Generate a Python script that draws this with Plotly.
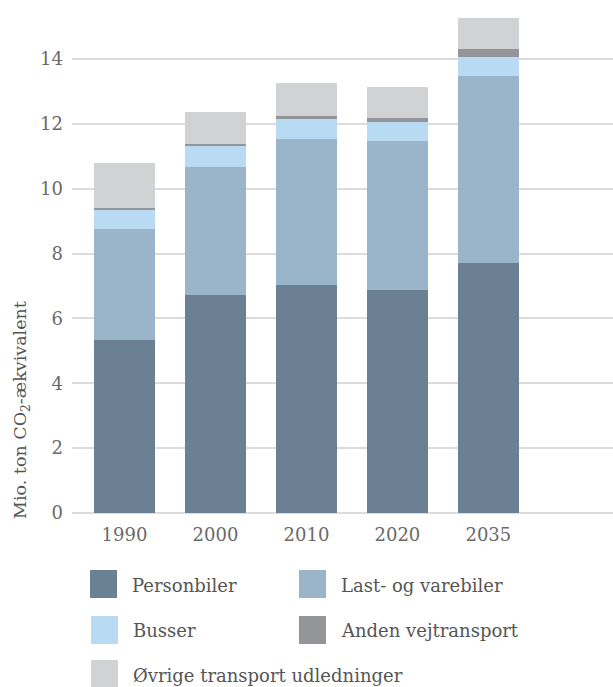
import plotly.graph_objects as go

years = ["1990", "2000", "2010", "2020", "2035"]
series_names = ["Personbiler", "Last- og varebiler", "Busser", "Anden vejtransport", "Øvrige transport udledninger"]
personbiler = [5.34, 6.73, 7.04, 6.89, 7.72]
last_varebiler = [3.43, 3.95, 4.50, 4.59, 5.77]
busser = [0.60, 0.66, 0.62, 0.59, 0.58]
anden = [0.03, 0.05, 0.09, 0.12, 0.24]
ovrige = [1.40, 0.98, 1.02, 0.96, 0.96]
colors = ["#6b8193", "#9ab5ca", "#b8dbf3", "#939598", "#d1d2d4"]
y_ticks = [0, 2, 4, 6, 8, 10, 12, 14]

FONT = "DejaVu Serif"
W, H = 613, 687
L, T, B = 72, 0, 174
plot_w, plot_h = W - L, H - T - B

fig = go.Figure()
for name, vals, col in zip(series_names, [personbiler, last_varebiler, busser, anden, ovrige], colors):
    fig.add_trace(go.Bar(x=years, y=vals, name=name, marker=dict(color=col, line=dict(width=0)),
                         width=0.67, showlegend=False))

def px_x(p):
    return (p - L) / plot_w

def px_y(p):
    return (T + plot_h - p) / plot_h

shapes = []
annotations = []
# manual legend (large square swatches)
legend_pos = [(90, 570), (299, 570), (91, 616), (299, 616), (91, 660)]
for (bx, by), name, col in zip(legend_pos, series_names, colors):
    shapes.append(dict(type="rect", xref="paper", yref="paper",
                       x0=px_x(bx), x1=px_x(bx + 27), y0=px_y(by + 28), y1=px_y(by),
                       fillcolor=col, line=dict(width=0)))
    annotations.append(dict(xref="paper", yref="paper", x=px_x(bx + 40), y=px_y(by + 15),
                            text=name, showarrow=False, xanchor="left", yanchor="middle",
                            font=dict(family=FONT, size=18, color="#555555")))

annotations.append(dict(xref="paper", yref="paper", x=px_x(21), y=px_y(410),
                        text="Mio. ton CO<sub>2</sub>-ækvivalent", textangle=-90,
                        showarrow=False, xanchor="center", yanchor="middle",
                        font=dict(family=FONT, size=17.5, color="#555555")))

fig.update_layout(
    width=W, height=H,
    margin=dict(l=L, r=0, t=T, b=B, pad=0),
    barmode="stack",
    plot_bgcolor="white", paper_bgcolor="white",
    font=dict(family=FONT, size=18, color="#666666"),
    shapes=shapes, annotations=annotations,
    xaxis=dict(range=[-0.577, 5.37], showgrid=False, showline=False, zeroline=False,
               ticks="", ticklabelstandoff=9,
               tickfont=dict(family=FONT, size=18, color="#6a6a6a")),
    yaxis=dict(range=[0, 15.82], tickvals=y_ticks, showgrid=True, gridcolor="#dcdcdc",
               gridwidth=1.5, zeroline=True, zerolinecolor="#dcdcdc", zerolinewidth=1.5,
               showline=False, ticks="", ticklabelstandoff=8,
               tickfont=dict(family=FONT, size=18, color="#6a6a6a")),
)

fig.write_html("out.html", config={"displayModeBar": False},
               post_script="document.body.style.margin='0';document.body.style.overflow='hidden';")
